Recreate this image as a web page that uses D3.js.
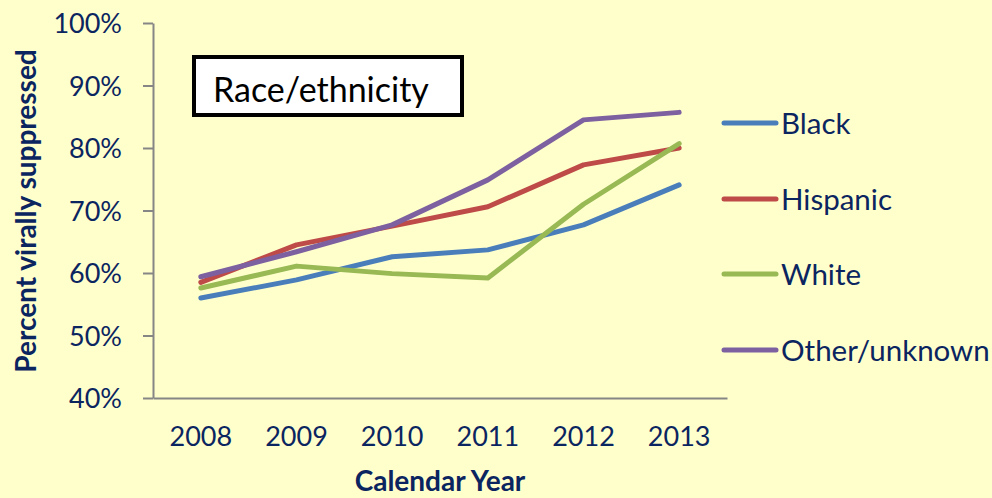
<!DOCTYPE html>
<html>
<head>
<meta charset="utf-8">
<script src="https://cdn.jsdelivr.net/npm/d3@7"></script>
<style>
  body { margin: 0; background: #FFFFCC; }
  svg { display: block; }
  text { font-family: Lato, "Open Sans", sans-serif; }
</style>
</head>
<body>
<div id="chart"></div>
<script>
// chart data
var years = ["2008", "2009", "2010", "2011", "2012", "2013"];
var groups = ["Black", "Hispanic", "White", "Other/unknown"];
var black = [56.0, 58.9, 62.6, 63.7, 67.7, 74.1];
var hispanic = [58.5, 64.5, 67.5, 70.6, 77.3, 80.0];
var white = [57.6, 61.1, 59.9, 59.2, 71.0, 80.7];
var other = [59.4, 63.4, 67.7, 74.9, 84.5, 85.7];
var yTicks = [40, 50, 60, 70, 80, 90, 100];

var series = [black, hispanic, white, other];
var colors = ["#4A7EBB", "#BE4B48", "#98B954", "#7D60A0"];
var navy = "#0B2560";

var W = 992, H = 498;
var m = {left: 153, right: 727, top: 23, bottom: 398};

var svg = d3.select("#chart").append("svg")
    .attr("width", W)
    .attr("height", H);

svg.append("rect")
    .attr("width", W).attr("height", H)
    .attr("fill", "#FFFFCC");

var x = d3.scaleBand()
    .domain(years)
    .range([m.left, m.right]);

var y = d3.scaleLinear()
    .domain([40, 100])
    .range([m.bottom, m.top]);

// y axis
var yAxis = svg.append("g")
    .attr("transform", "translate(" + m.left + ",0)")
    .call(d3.axisLeft(y)
      .tickValues(yTicks)
      .tickFormat(function(d) { return d + "%"; })
      .tickSize(10)
      .tickSizeOuter(0)
      .tickPadding(21));
yAxis.select(".domain").attr("stroke", "#868686").attr("stroke-width", 2);
yAxis.selectAll(".tick line").attr("stroke", "#868686").attr("stroke-width", 2);
yAxis.selectAll(".tick text")
    .attr("fill", navy)
    .style("font-size", "27px")
    .attr("dy", "0.36em");

// x axis
var xAxis = svg.append("g")
    .attr("transform", "translate(0," + m.bottom + ")")
    .call(d3.axisBottom(x).tickSize(0).tickPadding(29));
xAxis.select(".domain").attr("stroke", "#868686").attr("stroke-width", 2);
xAxis.selectAll(".tick text")
    .attr("fill", navy)
    .style("font-size", "27px");

// axis titles
svg.append("text")
    .attr("transform", "translate(36,211) rotate(-90)")
    .attr("text-anchor", "middle")
    .attr("fill", navy)
    .style("font-size", "28px")
    .style("font-weight", "bold")
    .text("Percent virally suppressed");

svg.append("text")
    .attr("x", 440)
    .attr("y", 491)
    .attr("text-anchor", "middle")
    .attr("fill", navy)
    .style("font-size", "28px")
    .style("font-weight", "bold")
    .text("Calendar Year");

// lines
var line = d3.line()
    .x(function(d, i) { return x(years[i]) + x.bandwidth() / 2; })
    .y(function(d) { return y(d); });

svg.selectAll(".series")
  .data(series)
  .enter()
  .append("path")
    .attr("class", "series")
    .attr("fill", "none")
    .attr("stroke", function(d, i) { return colors[i]; })
    .attr("stroke-width", 5)
    .attr("stroke-linejoin", "round")
    .attr("stroke-linecap", "round")
    .attr("d", line);

// title box
svg.append("rect")
    .attr("x", 194).attr("y", 57)
    .attr("width", 268).attr("height", 58)
    .attr("fill", "#fff")
    .attr("stroke", "#000")
    .attr("stroke-width", 4);
svg.append("text")
    .attr("x", 213)
    .attr("y", 102)
    .attr("fill", "#000")
    .style("font-size", "34px")
    .text("Race/ethnicity");

// legend
var legendY = [123, 199, 274, 350];
var leg = svg.selectAll(".legend")
  .data(groups)
  .enter()
  .append("g")
    .attr("class", "legend")
    .attr("transform", function(d, i) { return "translate(724," + legendY[i] + ")"; });

leg.append("line")
    .attr("x1", 0).attr("x2", 52)
    .attr("stroke", function(d, i) { return colors[i]; })
    .attr("stroke-width", 5)
    .attr("stroke-linecap", "round");

leg.append("text")
    .attr("x", 57)
    .attr("dy", "0.36em")
    .attr("fill", navy)
    .style("font-size", "29.5px")
    .text(function(d) { return d; });
</script>
</body>
</html>
